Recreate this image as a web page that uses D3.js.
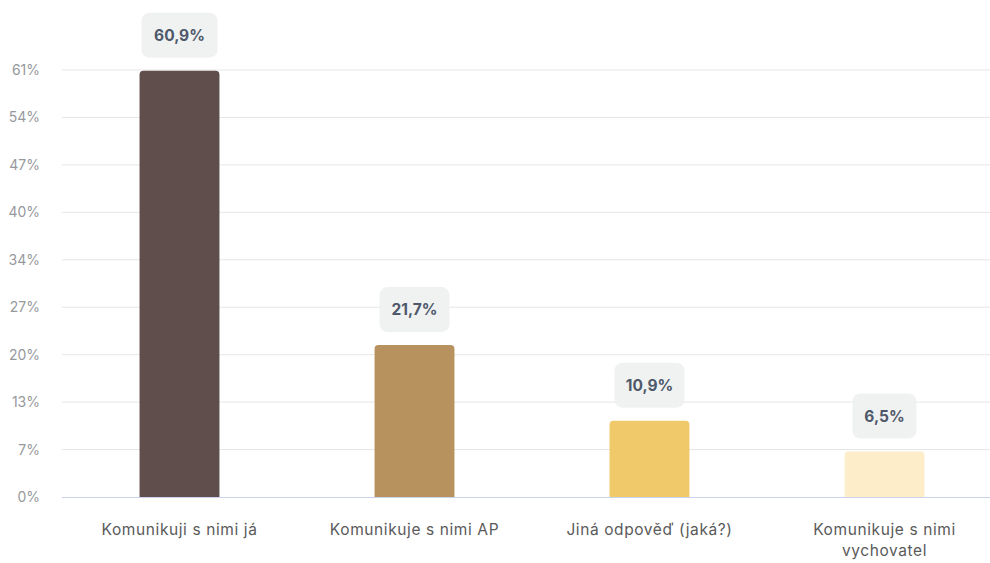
<!DOCTYPE html>
<html><head><meta charset="utf-8">
<script src="https://cdn.jsdelivr.net/npm/d3@7"></script>
<style>body{margin:0;background:#fff;}svg{display:block;font-family:Inter,"Noto Sans",sans-serif;}</style>
</head><body>
<svg id="c" width="990" height="563"></svg>
<script>
const categories = ["Komunikuji s nimi já", "Komunikuje s nimi AP", "Jiná odpověď (jaká?)", "Komunikuje s nimi vychovatel"];
const values = [60.9, 21.7, 10.9, 6.5];
const valueLabels = ["60,9%", "21,7%", "10,9%", "6,5%"];
const colors = ["#5f4e4c", "#b8925e", "#f0c96a", "#fdeec9"];
const tickLabels = ["0%", "7%", "13%", "20%", "27%", "34%", "40%", "47%", "54%", "61%"];
const yMax = 61;
const tickValues = tickLabels.map((d, i) => i * yMax / (tickLabels.length - 1));

const svg = d3.select("#c");
const x = d3.scaleBand().domain(categories).range([62, 1002]).paddingInner(0.66).paddingOuter(0.33);
const y = d3.scaleLinear().domain([0, yMax]).range([497, 70]);

// grid
svg.append("g").selectAll("line").data(tickValues.slice(1)).join("line")
  .attr("x1", 62).attr("x2", 990).attr("y1", d => y(d)).attr("y2", d => y(d))
  .attr("stroke", "#e6e6e6").attr("stroke-width", 1);

// y axis labels
const yAxis = d3.axisLeft(y).tickValues(tickValues).tickFormat((d, i) => tickLabels[i]).tickSize(0).tickPadding(0);
const gy = svg.append("g").attr("transform", "translate(40,0)").call(yAxis);
gy.select(".domain").remove();
gy.selectAll("text").attr("fill", "#96999c").attr("font-size", 14).attr("font-family", "Inter,sans-serif");

// bars with rounded top corners
const r = 4;
svg.append("g").selectAll("path").data(values).join("path")
  .attr("fill", (d, i) => colors[i])
  .attr("d", (d, i) => {
    const x0 = x(categories[i]), w = x.bandwidth(), y0 = y(d), yb = y(0);
    return `M${x0},${yb}V${y0 + r}Q${x0},${y0} ${x0 + r},${y0}H${x0 + w - r}Q${x0 + w},${y0} ${x0 + w},${y0 + r}V${yb}Z`;
  });

// baseline
svg.append("line").attr("x1", 62).attr("x2", 990).attr("y1", y(0) + 0.5).attr("y2", y(0) + 0.5)
  .attr("stroke", "#c9d4ec").attr("stroke-width", 1);

// value label boxes
const lg = svg.append("g").selectAll("g").data(values).join("g")
  .attr("transform", (d, i) => `translate(${x(categories[i]) + x.bandwidth() / 2},${y(d) - 13})`);
lg.append("rect")
  .attr("x", (d, i) => i === 0 ? -38 : (i === 3 ? -32 : -35)).attr("y", -45)
  .attr("width", (d, i) => i === 0 ? 76 : (i === 3 ? 64 : 70)).attr("height", 45)
  .attr("rx", 8).attr("fill", "#f0f2f2");
lg.append("text").attr("text-anchor", "middle").attr("y", -17)
  .attr("font-size", 15.5).attr("font-weight", 700).attr("fill", "#4e586a")
  .text((d, i) => valueLabels[i]);

// x labels
const xl = svg.append("g").selectAll("text").data(categories).join("text")
  .attr("text-anchor", "middle").attr("font-size", 15.5).attr("fill", "#5a5a5a")
  .attr("letter-spacing", 0.6)
  .attr("font-family", "Inter,sans-serif")
  .attr("x", d => x(d) + x.bandwidth() / 2).attr("y", 535);
xl.each(function(d) {
  const t = d3.select(this);
  if (d === "Komunikuje s nimi vychovatel") {
    t.append("tspan").attr("x", t.attr("x")).attr("dy", 0).text("Komunikuje s nimi");
    t.append("tspan").attr("x", t.attr("x")).attr("dy", 21).text("vychovatel");
  } else t.text(d);
});
</script>
</body></html>
